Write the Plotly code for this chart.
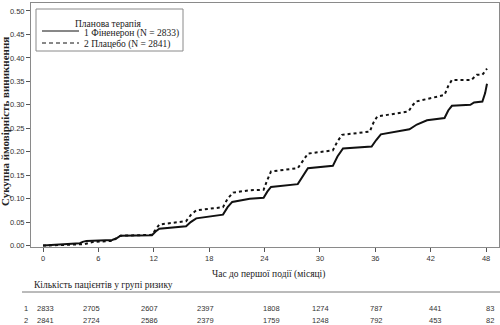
import plotly.graph_objects as go

# Cumulative incidence of the first event, by treatment arm
months_fin = [0, 2, 4, 4.3, 4.7, 7.5, 8.0, 8.4, 11.8, 12.2, 12.6, 15.5, 16.0, 16.6,
              19.5, 20.0, 20.5, 22.4, 23.9, 24.3, 24.7, 27.6, 28.2, 28.7, 31.4, 31.9,
              32.5, 35.6, 36.1, 36.6, 39.7, 40.5, 41.6, 43.5, 43.9, 44.3, 46.3, 46.7,
              47.6, 47.9, 48.1]
cif_fin = [0, 0.003, 0.005, 0.008, 0.010, 0.012, 0.016, 0.021, 0.022, 0.030, 0.036,
           0.041, 0.050, 0.058, 0.066, 0.082, 0.093, 0.100, 0.102, 0.115, 0.125, 0.131,
           0.150, 0.165, 0.170, 0.190, 0.207, 0.211, 0.225, 0.237, 0.248, 0.258, 0.267,
           0.272, 0.288, 0.298, 0.300, 0.305, 0.307, 0.325, 0.345]

months_pbo = [0, 2, 4.5, 5.0, 5.5, 7.5, 8.0, 8.4, 11.8, 12.2, 12.6, 15.5, 16.0, 16.6,
              19.5, 20.0, 20.6, 22.4, 23.9, 24.3, 24.7, 27.6, 28.2, 28.7, 31.4, 31.9,
              32.4, 35.4, 35.8, 36.2, 39.6, 40.0, 40.4, 43.5, 43.9, 44.3, 46.4, 47.0,
              47.6, 48.1]
cif_pbo = [0, 0.001, 0.003, 0.006, 0.008, 0.010, 0.016, 0.021, 0.023, 0.035, 0.045,
           0.052, 0.065, 0.075, 0.082, 0.100, 0.113, 0.118, 0.119, 0.140, 0.158, 0.165,
           0.183, 0.196, 0.203, 0.222, 0.236, 0.243, 0.262, 0.275, 0.286, 0.298, 0.307,
           0.321, 0.340, 0.353, 0.353, 0.364, 0.364, 0.377]

series_names = ["1 Фіненерон (N = 2833)", "2 Плацебо (N = 2841)"]
legend_title = "Планова терапія"

x_ticks = [0, 6, 12, 18, 24, 30, 36, 42, 48]
y_ticks = [0.00, 0.05, 0.10, 0.15, 0.20, 0.25, 0.30, 0.35, 0.40, 0.45, 0.50]

# Number at risk at each tick month
risk_labels = ["1", "2"]
risk_fin = [2833, 2705, 2607, 2397, 1808, 1274, 787, 441, 83]
risk_pbo = [2841, 2724, 2586, 2379, 1759, 1248, 792, 453, 82]

x_title = "Час до першої події (місяці)"
y_title = "Сукупна ймовірність виникнення"
risk_title = "Кількість пацієнтів у групі ризику"

SERIF = "Liberation Serif, Times New Roman, serif"
SANS = "Liberation Sans, Arial, sans-serif"
INK = "#222222"
W, H = 500, 325
M_L, M_R, M_T, M_B = 31, 1, 3, 78
PLOT_W = W - M_L - M_R
PLOT_H = H - M_T - M_B

# horizontal nudges (px) of the at-risk columns relative to their tick
column_shift = [2, -7, -4, -4, 7, 1, 1, 5, 4]


def py(ypix):
    """Pixel row -> paper y coordinate."""
    return (H - M_B - ypix) / PLOT_H


def px(xpix):
    """Pixel column -> paper x coordinate."""
    return (xpix - M_L) / PLOT_W


line_styles = [dict(color="#111111", width=2), dict(color="#111111", width=2, dash="dot")]

fig = go.Figure()
fig.add_trace(go.Scatter(x=months_fin, y=cif_fin, mode="lines", name=series_names[0],
                         line=line_styles[0]))
fig.add_trace(go.Scatter(x=months_pbo, y=cif_pbo, mode="lines", name=series_names[1],
                         line=line_styles[1]))

sans_font = dict(family=SANS, size=7.5, color="#333333")
serif_font = dict(family=SERIF, size=9.5, color=INK)

axis_common = dict(showline=True, linecolor="#8a8a8a", linewidth=1, mirror=True,
                   ticks="outside", ticklen=4, tickcolor="#555555", showgrid=False,
                   zeroline=False, tickfont=sans_font)

fig.update_xaxes(range=[-1.3, 49.4], tickvals=x_ticks, **axis_common)
fig.update_yaxes(range=[-0.003, 0.517], tickvals=y_ticks, tickformat=".2f", **axis_common)

annotations = [
    dict(text="<b>" + y_title + "</b>", x=px(5), y=py(122), xref="paper", yref="paper",
         textangle=-90, xanchor="center", yanchor="middle", showarrow=False,
         font=dict(family=SERIF, size=11, color=INK)),
    dict(text=x_title, x=px(268), y=py(274), xref="paper", yref="paper",
         xanchor="center", yanchor="middle", showarrow=False, font=serif_font),
    dict(text=risk_title, x=px(32), y=py(285), xref="paper", yref="paper",
         xanchor="left", yanchor="middle", showarrow=False, font=serif_font),
]

for row_y, label, counts in [(308, risk_labels[0], risk_fin), (320, risk_labels[1], risk_pbo)]:
    annotations.append(dict(text=label, x=px(22), y=py(row_y), xref="paper", yref="paper",
                            xanchor="left", yanchor="middle", showarrow=False, font=sans_font))
    for m, n, dx in zip(x_ticks, counts, column_shift):
        annotations.append(dict(text=str(n), x=m, xshift=dx, y=py(row_y), xref="x",
                                yref="paper", xanchor="center", yanchor="middle",
                                showarrow=False, font=sans_font))

# Legend box drawn by hand: title, two line samples and their labels
shapes = [
    dict(type="rect", xref="paper", yref="paper", x0=px(36), x1=px(183), y0=py(51), y1=py(9),
         line=dict(color="#8a8a8a", width=1), fillcolor="white", layer="above"),
    dict(type="line", xref="paper", yref="paper", x0=px(22), x1=px(500),
         y0=py(292), y1=py(292), line=dict(color="#777777", width=1)),
]
annotations.append(dict(text=legend_title, x=px(108), y=py(24), xref="paper", yref="paper",
                        xanchor="center", yanchor="middle", showarrow=False, font=serif_font))
legend_rows = [(31, 34, series_names[0], "solid"), (43, 44, series_names[1], "4px,3px")]
for line_y, text_y, name, dash in legend_rows:
    shapes.append(dict(type="line", xref="paper", yref="paper", x0=px(42), x1=px(79),
                       y0=py(line_y), y1=py(line_y),
                       line=dict(color="#111111", width=1, dash=dash), layer="above"))
    annotations.append(dict(text=name, x=px(82), y=py(text_y), xref="paper", yref="paper",
                            xanchor="left", yanchor="middle", showarrow=False, font=serif_font))

fig.update_layout(
    width=W, height=H,
    margin=dict(l=M_L, r=M_R, t=M_T, b=M_B),
    paper_bgcolor="white", plot_bgcolor="white",
    showlegend=False,
    annotations=annotations,
    shapes=shapes,
)

fig.write_html("out.html")
